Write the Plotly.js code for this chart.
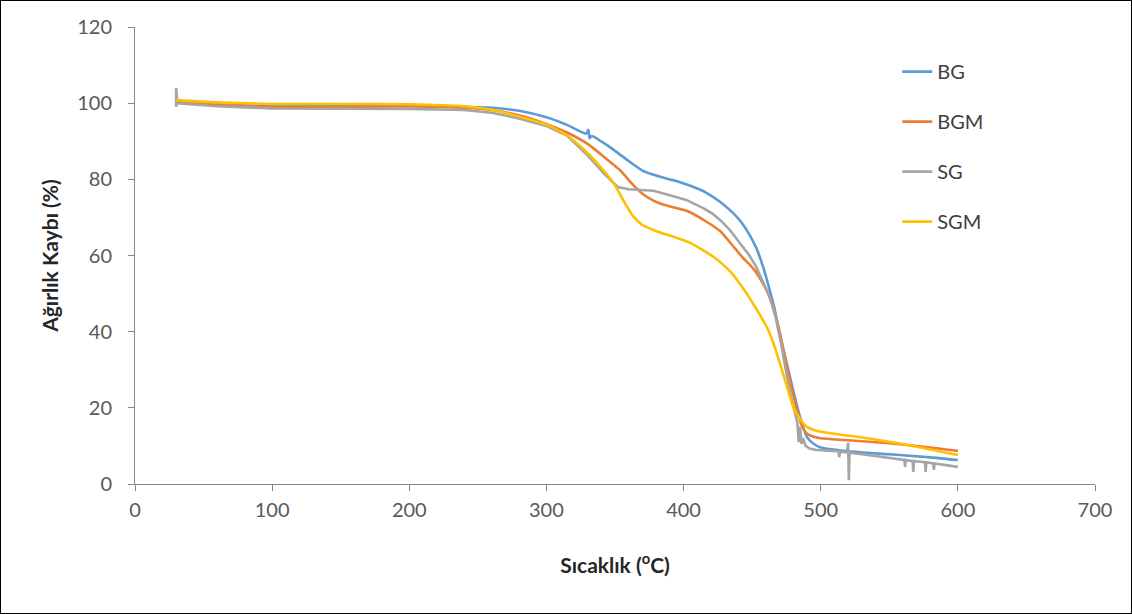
<!DOCTYPE html>
<html>
<head>
<meta charset="utf-8">
<script src="https://cdn.plot.ly/plotly-3.0.1.min.js"></script>
<style>
  html, body { margin: 0; padding: 0; background: #fff; }
  #wrap { position: relative; width: 1132px; height: 614px; }
  #plot { width: 1132px; height: 614px; }
  #frame { position: absolute; left: 0; top: 0; width: 1130px; height: 612px; border: 1px solid #000; pointer-events: none; }
</style>
</head>
<body>
<div id="wrap"><div id="plot"></div><div id="frame"></div></div>
<script>
// Temperature (°C) and weight (%) for each sample
const bgT = [30, 60, 100, 150, 200, 240, 260, 280, 300, 315, 329, 330.5, 331.5, 333, 345, 360, 370, 380, 392, 405, 417, 427, 436, 442, 448, 453, 458, 462, 466, 470, 475, 480, 485, 490, 495, 500, 520, 550, 580, 600];
const bgW = [100.5, 99.8, 99.2, 99.2, 99.2, 99.0, 98.8, 98.0, 96.3, 94.3, 92.0, 93.0, 90.8, 91.4, 88.8, 84.8, 82.3, 81.0, 79.8, 78.3, 76.4, 74.0, 71.2, 68.8, 65.5, 62.0, 57.0, 52.0, 46.5, 39.5, 32.0, 24.5, 17.5, 12.3, 10.5, 9.6, 8.6, 7.8, 7.0, 6.3];

const bgmT = [30, 60, 100, 150, 200, 240, 260, 280, 300, 315, 330, 345, 354, 362, 370, 378, 385, 393, 403, 417, 427, 436, 443, 451, 456, 461, 466, 470, 474, 478, 482, 486, 490, 495, 500, 520, 550, 580, 600];
const bgmW = [100.2, 99.6, 99.0, 99.0, 99.2, 98.8, 98.2, 96.8, 94.5, 92.3, 89.3, 85.0, 82.3, 79.0, 76.2, 74.4, 73.4, 72.6, 71.6, 68.8, 66.3, 62.5, 59.5, 56.5, 53.8, 50.5, 45.5, 40.0, 33.0, 26.5, 20.5, 15.5, 13.2, 12.4, 12.0, 11.5, 10.7, 9.6, 8.7];

const sgT = [30, 30, 31, 60, 100, 150, 200, 240, 260, 280, 300, 315, 330, 342, 352, 360, 370, 378, 390, 402, 415, 421, 427, 434, 441, 448, 453, 458, 463, 467, 471, 475, 479, 483, 484, 485, 486, 487, 489, 492, 496, 500, 507, 513, 513.5, 514, 519, 520, 520.5, 521, 530, 543, 561, 561.5, 562, 567, 567.5, 568, 576, 576.5, 577, 582, 582.5, 583, 590, 600];
const sgW = [99.0, 104.0, 100.0, 99.2, 98.6, 98.6, 98.5, 98.2, 97.5, 96.0, 94.0, 91.5, 86.3, 81.5, 78.0, 77.4, 77.2, 77.0, 75.8, 74.6, 72.3, 71.0, 69.2, 66.6, 63.3, 60.0, 57.0, 53.0, 49.0, 44.0, 37.0, 29.0, 22.0, 16.0, 11.0, 15.0, 10.5, 12.0, 10.0, 9.3, 9.0, 8.9, 8.8, 8.6, 7.0, 8.5, 8.3, 10.8, 1.0, 8.2, 7.8, 7.2, 6.3, 4.5, 6.3, 6.0, 3.2, 6.0, 5.7, 3.2, 5.7, 5.4, 3.7, 5.4, 5.0, 4.5];

const sgmT = [30, 60, 100, 150, 200, 240, 260, 280, 300, 315, 330, 340, 349, 356, 363, 370, 378, 385, 392, 405, 415, 422, 430, 436, 441, 446, 451, 456, 461, 465, 470, 475, 480, 485, 490, 495, 500, 520, 543, 570, 600];
const sgmW = [100.8, 100.2, 99.8, 99.8, 99.7, 99.2, 98.3, 96.5, 94.3, 91.5, 86.9, 83.0, 79.0, 74.5, 70.4, 68.0, 66.7, 65.8, 65.0, 63.3, 61.2, 59.6, 57.2, 55.0, 52.6, 50.0, 47.2, 44.2, 41.0, 37.5, 32.0, 26.0, 20.2, 17.0, 15.0, 14.2, 13.7, 12.7, 11.5, 9.8, 7.6];

const names = ['BG', 'BGM', 'SG', 'SGM'];
const xTicks = [0, 100, 200, 300, 400, 500, 600, 700];
const yTicks = [0, 20, 40, 60, 80, 100, 120];

const colors = ['#5B9BD5', '#ED7D31', '#A5A5A5', '#FFC000'];
const xs = [bgT, bgmT, sgT, sgmT];
const ys = [bgW, bgmW, sgW, sgmW];

const traces = names.map((n, i) => ({
  type: 'scatter',
  mode: 'lines',
  name: n,
  x: xs[i],
  y: ys[i],
  legendgroup: n,
  line: { color: colors[i], width: 2.6, shape: i === 2 ? 'linear' : 'spline', smoothing: 0.6 }
}));

const axisColor = '#868686';
const fam = 'Lato, "Open Sans", sans-serif';
const tickFont = { family: fam, size: 20, color: '#595959' };

const layout = {
  width: 1132,
  height: 614,
  margin: { l: 135, r: 37, t: 27, b: 130 },
  paper_bgcolor: '#ffffff',
  plot_bgcolor: '#ffffff',
  showlegend: true,
  legend: {
    x: 0.794, y: 0.945, xanchor: 'left', yanchor: 'top',
    font: { family: fam, size: 20, color: '#404040' },
    tracegroupgap: 21,
    bgcolor: 'rgba(0,0,0,0)'
  },
  xaxis: {
    range: [0, 700],
    tickvals: xTicks,
    ticktext: xTicks.map(String),
    showgrid: false,
    zeroline: false,
    showline: true,
    linecolor: axisColor,
    linewidth: 1,
    ticks: 'outside',
    ticklen: 6,
    tickcolor: axisColor,
    tickfont: tickFont,
    ticklabelstandoff: 2,
    title: { text: 'Sıcaklık (<sup>o</sup>C)', standoff: 38, font: { family: fam, size: 21, color: '#262626', weight: 'bold' } }
  },
  yaxis: {
    range: [0, 120],
    tickvals: yTicks,
    ticktext: yTicks.map(String),
    showgrid: false,
    zeroline: false,
    showline: true,
    linecolor: axisColor,
    linewidth: 1,
    ticks: 'outside',
    ticklen: 6,
    tickcolor: axisColor,
    tickfont: tickFont,
    ticklabelstandoff: 12,
    title: { text: 'Ağırlık Kaybı (%)', standoff: 12, font: { family: fam, size: 21, color: '#262626', weight: 'bold' } }
  }
};

Plotly.newPlot('plot', traces, layout, { displayModeBar: false, staticPlot: true });
</script>
</body>
</html>
